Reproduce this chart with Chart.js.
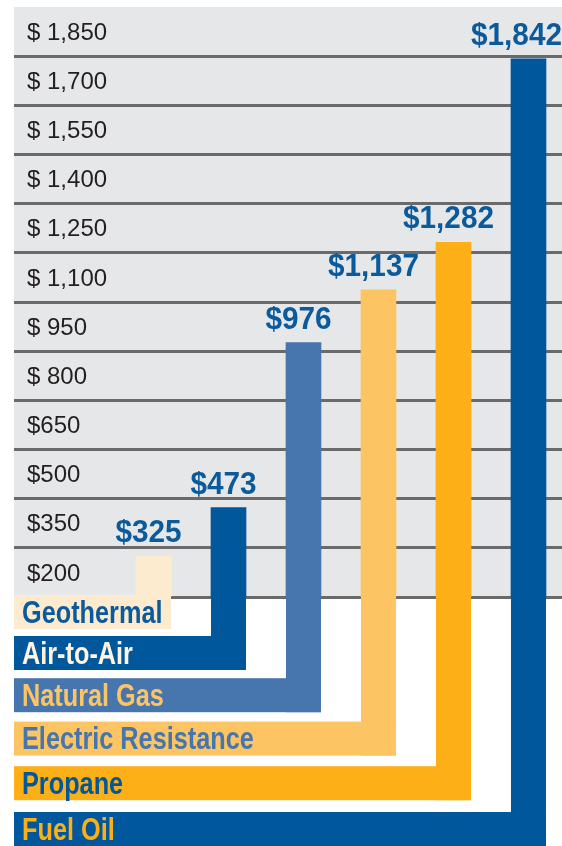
<!DOCTYPE html>
<html>
<head>
<meta charset="utf-8">
<script src="https://cdn.jsdelivr.net/npm/chart.js@4.4.1/dist/chart.umd.min.js"></script>
<style>
  html, body { margin: 0; padding: 0; background: #fff; }
  #wrap { width: 562px; height: 846px; position: relative; }
</style>
</head>
<body>
<div id="wrap"><canvas id="costChart"></canvas></div>
<script>
const categories = ['Geothermal', 'Air-to-Air', 'Natural Gas', 'Electric Resistance', 'Propane', 'Fuel Oil'];
const costs = [325, 473, 976, 1137, 1282, 1842];
const tickValues = [200, 350, 500, 650, 800, 950, 1100, 1250, 1400, 1550, 1700, 1850];
const tickLabels = ['$200', '$350', '$500', '$650', '$ 800', '$ 950', '$ 1,100', '$ 1,250', '$ 1,400', '$ 1,550', '$ 1,700', '$ 1,850'];

const barColors = ['#FDEBCF', '#00579B', '#4676AD', '#FDC463', '#FCAF17', '#00579B'];
const nameColors = ['#0B5A9C', '#FFF4E2', '#FDC463', '#4676AD', '#00579B', '#FCAF17'];

const boldFont = (size) => `bold ${size}px "Liberation Sans", Arial, sans-serif`;

// no narrow font installed, so squeeze the bold face horizontally
function squeezeText(ctx, text, x, y, sx, align) {
  ctx.save();
  ctx.translate(x, y);
  ctx.scale(sx, 1);
  ctx.textAlign = align;
  ctx.fillText(text, 0, 0);
  ctx.restore();
}

// grey plot background
const backdrop = {
  id: 'backdrop',
  beforeDraw(chart) {
    const { ctx, chartArea: a } = chart;
    ctx.save();
    ctx.fillStyle = '#E6E7E9';
    ctx.fillRect(a.left, a.top, a.right - a.left, a.bottom - a.top);
    ctx.restore();
  }
};

// bars run down past the plot into an L-shaped name band, value on top
const legs = {
  id: 'legs',
  afterDatasetsDraw(chart) {
    const { ctx, chartArea: a } = chart;
    const bars = chart.getDatasetMeta(0).data;
    ctx.save();
    ctx.textBaseline = 'alphabetic';
    bars.forEach((bar, i) => {
      const half = bar.width / 2;
      const top = a.bottom - 2 + 41 * i + 0.6 * i * (i - 1);
      const bottom = top + 34;

      ctx.fillStyle = barColors[i];
      ctx.fillRect(bar.x - half, a.bottom - 1, bar.width, bottom - a.bottom + 1);
      ctx.fillRect(a.left, top, bar.x + half - a.left, 34);

      ctx.fillStyle = nameColors[i];
      ctx.font = boldFont(32);
      squeezeText(ctx, categories[i], a.left + 8, bottom - 6.5, 0.79, 'left');

      const label = '$' + costs[i].toLocaleString('en-US');
      ctx.font = boldFont(32);
      ctx.fillStyle = '#0B5A9C';
      const w = ctx.measureText(label).width * 0.93;
      const x = Math.min(bar.x - 5, chart.width - w / 2);
      squeezeText(ctx, label, x, bar.y - 14, 0.93, 'center');
    });
    ctx.restore();
  }
};

const ctx = document.getElementById('costChart').getContext('2d');

new Chart(ctx, {
  type: 'bar',
  data: {
    datasets: [{
      data: costs.map((v, i) => ({ x: i, y: v })),
      backgroundColor: barColors,
      barThickness: 35,
      borderWidth: 0
    }]
  },
  options: {
    responsive: true,
    maintainAspectRatio: false,
    animation: false,
    layout: {
      padding: { top: 7, left: 14, right: 0, bottom: 249 }
    },
    plugins: {
      legend: { display: false },
      tooltip: { enabled: false }
    },
    scales: {
      x: {
        type: 'linear',
        offset: false,
        min: -1.86,
        max: 5.447,
        display: false
      },
      y: {
        min: 200,
        max: 2000,
        afterFit(scale) {
          scale.width = 0;
          scale.paddingTop = 0;
          scale.paddingBottom = 0;
        },
        border: { display: false },
        grid: {
          drawTicks: false,
          lineWidth: 3,
          color: (c) => (c.tick && c.tick.value === 2000 ? 'rgba(0,0,0,0)' : '#6A6A6A')
        },
        ticks: {
          stepSize: 150,
          mirror: true,
          padding: 13,
          labelOffset: -23,
          autoSkip: false,
          color: '#231F20',
          font: { family: '"Liberation Sans", Arial, sans-serif', size: 24 },
          callback: (v) => {
            const k = tickValues.indexOf(v);
            return k < 0 ? '' : tickLabels[k];
          }
        }
      }
    }
  },
  plugins: [backdrop, legs]
});
</script>
</body>
</html>
